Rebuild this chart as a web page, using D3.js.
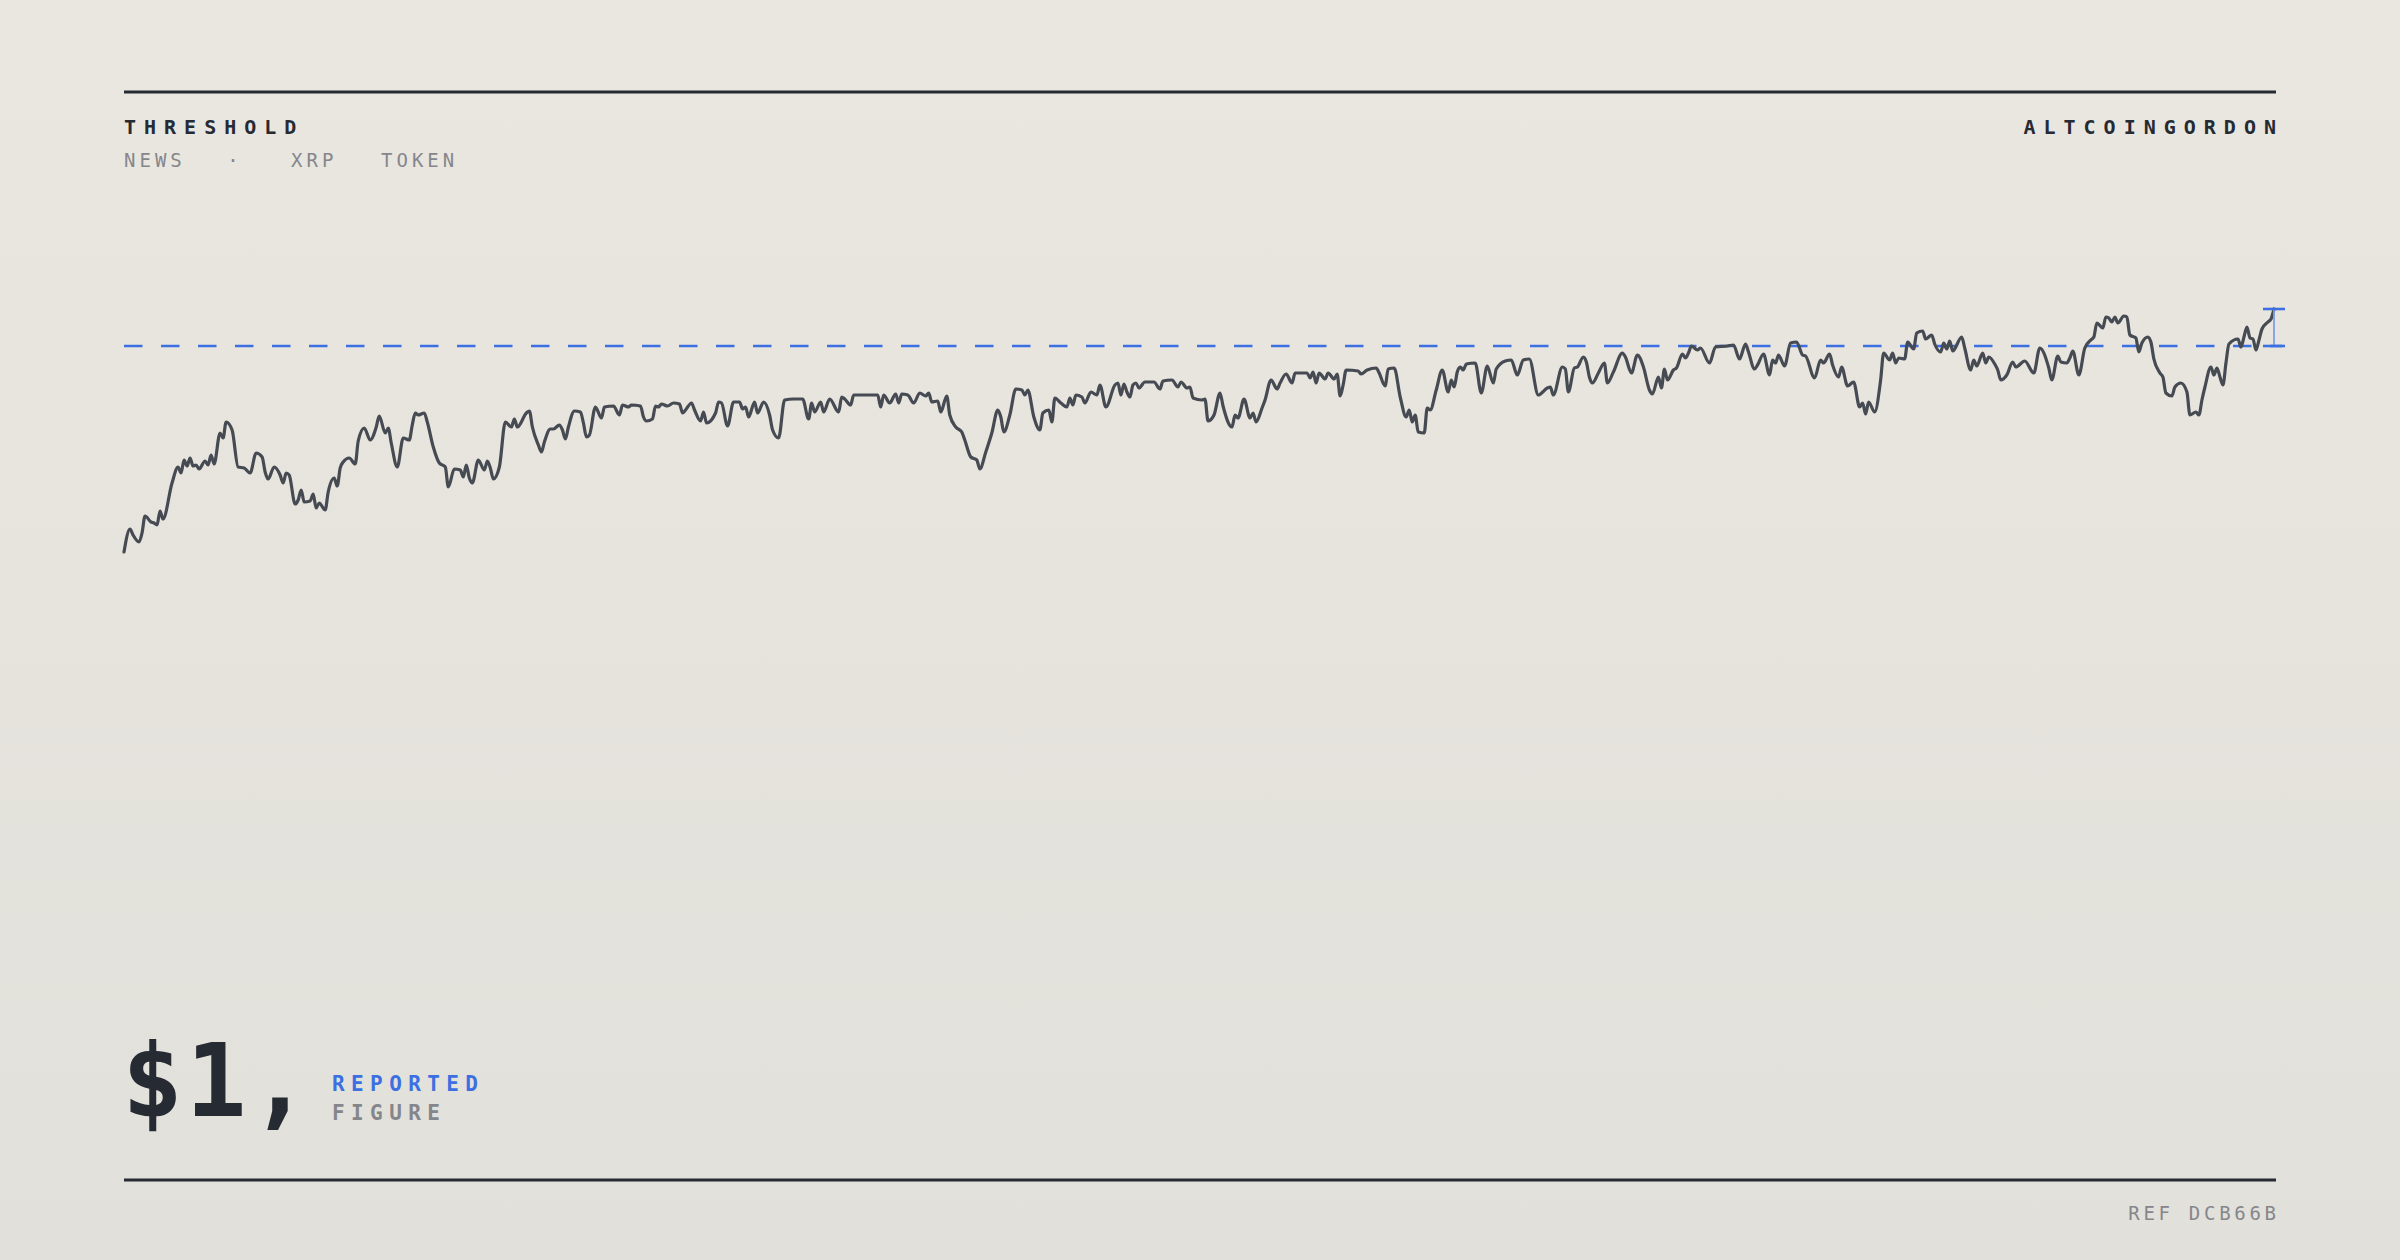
<!DOCTYPE html>
<html><head><meta charset="utf-8">
<script src="https://cdn.jsdelivr.net/npm/d3@7"></script>
<style>html,body{margin:0;padding:0;background:#e6e4de;}svg{display:block}</style>
</head><body><svg id="c" width="2400" height="1260"></svg>
<script>
// ---- data ----
const days = [0,2,3,5,6,7,9,10,11,12,13,16,18,19,20,21,22,23,24,25,27,28,29,30,32,33,34,36,38,40,42,44,46,47,48,50,52,53,54,55,57,58,59,60,62,63,64,65,67,68,70,71,72,73,75,77,78,80,82,84,85,87,88,89,91,93,95,96,97,98,100,101,103,105,107,108,110,112,113,114,115,116,118,120,121,122,123,125,127,129,130,131,134,135,136,138,139,140,142,143,145,146,147,148,150,152,153,154,155,157,159,
160,163,165,166,168,169,172,173,174,176,177,178,179,181,183,185,186,187,189,190,192,193,194,197,198,199,201,203,205,206,207,208,210,211,213,215,216,218,220,223,226,228,229,230,232,233,235,238,239,240,242,243,247,251,252,253,255,257,258,259,261,263,265,267,268,269,271,272,274,275,277,279,280,282,284,285,287,289,291,292,293,295,297,299,300,301,303,305,306,308,309,310,312,314,315,316,317,319,320,322,324,325,
327,330,331,332,333,334,335,336,337,338,340,343,345,346,349,351,352,354,355,356,359,360,361,363,365,366,369,370,371,373,375,376,377,379,380,382,384,385,387,389,390,394,395,396,397,398,400,401,403,404,405,406,407,411,412,414,417,418,420,421,423,425,427,428,429,430,431,433,434,435,437,439,441,442,443,444,445,446,447,450,452,454,456,457,460,462,464,466,468,471,474,475,476,479,480,481,483,484,486,487,488,489,491,
493,494,496,499,500,502,504,506,508,509,511,512,513,514,516,517,519,520,521,522,524,525,528,530,534,536,538,540,541,543,544,546,548,549,550,551,553,555,557,559,560,563,565,566,568,569,571,572,574,576,578,579,580,581,583,585,586,588,589,590,591,593,594,596,597,599,600,602,603,605,606,607,608,609,612,613,615,616,617,619,620,621,623,624,625,627,629,630,633,636,638,641,
642,644,645,647,648,649,651,653,655,656,657,659,660,661,662,663,664,666,667,668,670,671,672,674,675,676,678,679,680,682,683,685,687,688,690,691,692,693,695,696,697,698,699,700,701,704,705,706,707,708,709,710,711,712,714,715,716];
const prices = [0.588,0.634,0.622,0.608,0.626,0.660,0.648,0.646,0.642,0.670,0.654,0.726,0.758,0.746,0.772,0.760,0.776,0.760,0.762,0.754,0.770,0.762,0.782,0.764,0.826,0.816,0.848,0.832,0.758,0.756,0.746,0.786,0.778,0.748,0.734,0.758,0.742,0.726,0.746,0.742,0.684,0.692,0.712,0.688,0.690,0.704,0.676,0.686,0.672,0.708,0.736,0.720,0.756,0.768,0.776,0.764,0.810,0.836,0.812,0.838,0.860,0.826,0.836,0.806,0.758,0.816,0.812,0.842,0.866,0.862,0.866,0.848,0.798,0.766,0.758,0.718,0.754,0.752,0.738,0.762,0.736,0.726,0.772,0.752,0.770,0.756,0.734,0.758,0.848,0.838,0.854,0.838,0.866,0.870,0.838,0.802,0.788,0.808,0.834,0.834,0.842,0.832,0.814,0.838,0.870,0.868,0.846,0.818,0.822,0.878,0.856,
0.878,0.880,0.862,0.882,0.878,0.882,0.880,0.858,0.850,0.854,0.880,0.878,0.884,0.880,0.886,0.884,0.866,0.872,0.886,0.872,0.850,0.868,0.846,0.866,0.888,0.886,0.840,0.888,0.888,0.874,0.878,0.858,0.888,0.866,0.888,0.862,0.832,0.816,0.892,0.894,0.894,0.854,0.886,0.868,0.888,0.868,0.894,0.868,0.898,0.894,0.882,0.902,0.902,0.902,0.878,0.902,0.886,0.904,0.886,0.904,0.902,0.886,0.906,0.900,0.906,0.888,0.890,0.868,0.900,0.862,0.838,0.828,0.812,0.778,0.772,0.754,0.788,0.826,0.872,0.858,0.828,0.862,0.914,0.912,0.902,0.912,0.858,0.832,0.866,0.872,0.848,0.896,0.886,0.878,0.896,0.882,0.902,0.898,0.886,0.908,0.902,0.922,
0.878,0.922,0.926,0.902,0.924,0.908,0.898,0.922,0.926,0.916,0.928,0.928,0.914,0.930,0.932,0.918,0.928,0.916,0.918,0.896,0.892,0.894,0.850,0.862,0.906,0.880,0.838,0.862,0.856,0.894,0.856,0.866,0.848,0.876,0.892,0.932,0.914,0.926,0.944,0.926,0.946,0.946,0.936,0.948,0.926,0.946,0.934,0.946,0.934,0.944,0.900,0.922,0.952,0.950,0.944,0.952,0.956,0.946,0.920,0.954,0.956,0.898,0.858,0.872,0.848,0.862,0.828,0.826,0.876,0.872,0.912,0.952,0.908,0.932,0.918,0.948,0.958,0.952,0.964,0.966,0.906,0.960,0.926,0.954,0.970,0.972,0.942,0.972,0.974,0.902,0.916,0.918,0.902,0.958,0.954,0.908,0.956,0.958,0.978,0.968,0.938,0.926,0.946,
0.966,0.926,0.948,0.986,0.978,0.946,0.982,0.958,0.912,0.904,0.938,0.916,0.954,0.932,0.952,0.956,0.984,0.976,0.986,1.000,0.992,0.996,0.966,0.998,1.000,1.002,0.974,1.004,0.988,0.954,0.962,0.984,0.942,0.972,0.966,0.982,0.960,1.006,1.008,0.982,0.980,0.936,0.972,0.966,0.984,0.962,0.938,0.958,0.920,0.928,0.878,0.886,0.864,0.888,0.868,0.932,0.986,0.972,0.986,0.966,0.976,0.974,1.008,0.994,1.026,1.030,1.014,1.022,1.004,0.988,1.006,0.994,1.010,0.990,1.018,0.996,0.952,0.972,0.960,0.986,0.966,0.978,0.964,0.952,0.932,0.942,0.968,0.958,0.970,0.946,0.996,0.956,
0.932,0.980,0.968,0.966,0.976,0.990,0.942,0.996,1.012,1.018,1.046,1.036,1.058,1.056,1.048,1.058,1.046,1.060,1.058,1.022,1.016,0.988,1.006,1.018,1.008,0.974,0.946,0.938,0.906,0.900,0.918,0.926,0.908,0.862,0.868,0.862,0.892,0.918,0.958,0.942,0.956,0.938,0.922,0.966,1.004,1.014,0.998,1.018,1.038,1.016,1.014,0.992,1.012,1.034,1.048,1.054,1.074];
const threshold = 1.0;
const headerLeft = "THRESHOLD";
const headerRight = "ALTCOINGORDON";
const tags = ["NEWS", "·", "XRP", "TOKEN"];
const bigFigure = "$1,";
const figureLabels = ["REPORTED", "FIGURE"];
const refText = "REF DCB66B";

// ---- drawing ----
const W = 2400, H = 1260;
const L = 124, R = 2276;
const mono = "'DejaVu Sans Mono', monospace";
const ink = "#262a33", grey = "#85868c", blue = "#3b6fe2";

const svg = d3.select("#c");
const defs = svg.append("defs");
const g = defs.append("linearGradient").attr("id","bg").attr("x1",0).attr("y1",0).attr("x2",0).attr("y2",1);
g.append("stop").attr("offset","0%").attr("stop-color","#eae7e0");
g.append("stop").attr("offset","100%").attr("stop-color","#e1e0da");
svg.append("rect").attr("width",W).attr("height",H).attr("fill","url(#bg)");

// rules
svg.append("line").attr("x1",L).attr("x2",R).attr("y1",92).attr("y2",92).attr("stroke",ink).attr("stroke-width",3);
svg.append("line").attr("x1",L).attr("x2",R).attr("y1",1180).attr("y2",1180).attr("stroke",ink).attr("stroke-width",3);

// header
svg.append("text").attr("x",L).attr("y",134).text(headerLeft)
  .attr("font-family",mono).attr("font-weight","bold").attr("font-size",20).attr("letter-spacing",8).attr("fill",ink);
svg.append("text").attr("x",R+8).attr("y",134).attr("text-anchor","end").text(headerRight)
  .attr("font-family",mono).attr("font-weight","bold").attr("font-size",20).attr("letter-spacing",8).attr("fill",ink);
const tagX = [124, 235, 291, 381];
tags.forEach((t,i)=>{
  svg.append("text").attr("x",tagX[i]).attr("y",167).text(t)
    .attr("text-anchor", t==="·" ? "middle" : "start")
    .attr("font-family",mono).attr("font-size",19).attr("letter-spacing",4).attr("fill",grey);
});

// scales
const x = d3.scaleLinear().domain([0, 716]).range([L, 2274]);
const y = d3.scaleLinear().domain([0.5, 1.1]).range([596, 296]);

// threshold dashed line
svg.append("line").attr("x1",L).attr("x2",R+6).attr("y1",y(threshold)).attr("y2",y(threshold))
  .attr("stroke",blue).attr("stroke-width",2.6).attr("stroke-dasharray","18.5,18.5");

// price line
const line = d3.line().x((d,i)=>x(days[i])).y(d=>y(d)).curve(d3.curveMonotoneX);
svg.append("path").datum(prices).attr("d",line).attr("fill","none")
  .attr("stroke","#464a52").attr("stroke-width",3.2).attr("stroke-linejoin","round").attr("stroke-linecap","round");

// gap marker at last point
const lx = x(days[days.length-1]);
const ly = y(prices[prices.length-1]);
const ty = y(threshold);
svg.append("line").attr("x1",lx).attr("x2",lx).attr("y1",ly).attr("y2",ty).attr("stroke","#7d9fe6").attr("stroke-width",1.8);
[ly, ty].forEach(v=>{
  svg.append("line").attr("x1",lx-11).attr("x2",lx+11).attr("y1",v).attr("y2",v).attr("stroke",blue).attr("stroke-width",2.6);
});

// big figure
svg.append("text").attr("x",L-2).attr("y",1116).text(bigFigure)
  .attr("font-family",mono).attr("font-weight","bold").attr("font-size",101).attr("letter-spacing",3).attr("fill",ink);
svg.append("text").attr("x",332).attr("y",1091).text(figureLabels[0])
  .attr("font-family",mono).attr("font-weight","bold").attr("font-size",21).attr("letter-spacing",6.4).attr("fill",blue);
svg.append("text").attr("x",332).attr("y",1120).text(figureLabels[1])
  .attr("font-family",mono).attr("font-weight","bold").attr("font-size",21).attr("letter-spacing",6.4).attr("fill",grey);

// ref
svg.append("text").attr("x",R+3.7).attr("y",1220).attr("text-anchor","end").text(refText)
  .attr("font-family",mono).attr("font-size",19).attr("letter-spacing",3.7).attr("fill",grey);
</script>
</body></html>
